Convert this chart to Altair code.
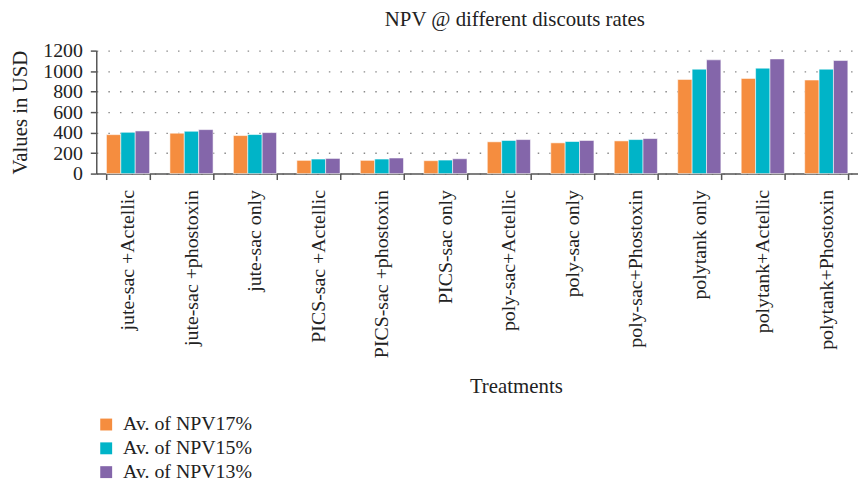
import altair as alt
import pandas as pd

treatments = ["jute-sac +Actellic", "jute-sac +phostoxin", "jute-sac only",
              "PICS-sac +Actellic", "PICS-sac +phostoxin", "PICS-sac only",
              "poly-sac+Actellic", "poly-sac only", "poly-sac+Phostoxin",
              "polytank only", "polytank+Actellic", "polytank+Phostoxin"]
series = ["Av. of NPV17%", "Av. of NPV15%", "Av. of NPV13%"]
npv17 = [380, 394, 371, 129, 129, 126, 310, 300, 319, 919, 929, 913]
npv15 = [403, 413, 381, 142, 142, 132, 323, 313, 332, 1019, 1029, 1019]
npv13 = [416, 429, 400, 148, 152, 145, 332, 323, 342, 1110, 1119, 1103]
colors = ["#F58D3F", "#00B4C8", "#8466AA"]
y_ticks = [0, 200, 400, 600, 800, 1000, 1200]

rows = []
for s, vals in zip(series, [npv17, npv15, npv13]):
    for t, v in zip(treatments, vals):
        rows.append({"Treatment": t, "Series": s, "Value": v})
df = pd.DataFrame(rows)

FONT = "Liberation Serif"
TXT = "#222222"
AX = "#555555"

chart = alt.Chart(df).mark_bar(stroke="white", strokeOpacity=0.55, strokeWidth=1).encode(
    x=alt.X("Treatment:N", sort=treatments,
            scale=alt.Scale(paddingInner=0.32, paddingOuter=0.16),
            axis=alt.Axis(title="Treatments", labelAngle=-90, labelFontSize=20,
                          titleFontSize=21, titleFontWeight="normal",
                          labelColor=TXT, titleColor=TXT,
                          domainColor=AX, domainWidth=1.5, tickColor=AX, tickWidth=1.5,
                          tickSize=6, tickBand="extent",
                          labelPadding=10, labelBaseline="middle", labelAlign="right",
                          titleX=423, titleY=221, titleAlign="center",
                          titleBaseline="alphabetic", grid=False)),
    xOffset=alt.XOffset("Series:N", sort=series),
    y=alt.Y("Value:Q", scale=alt.Scale(domain=[0, 1200]),
            axis=alt.Axis(title="Values in USD", values=y_ticks, format="d",
                          labelFontSize=20, titleFontSize=21, titleFontWeight="normal",
                          labelColor=TXT, titleColor=TXT,
                          domainColor=AX, domainWidth=1.5, tickColor=AX, tickWidth=1.5,
                          tickSize=6, labelPadding=8,
                          titleX=-70, titleY=62, titleAngle=-90, titleAlign="center",
                          titleBaseline="alphabetic",
                          grid=True, gridColor="#8a8a8a", gridDash=[1.5, 10.2],
                          gridWidth=1.4)),
    color=alt.Color("Series:N", sort=series,
                    scale=alt.Scale(domain=series, range=colors),
                    legend=alt.Legend(title=None, orient="none", legendX=0, legendY=367,
                                      symbolType="square", symbolSize=144,
                                      labelFontSize=20, labelColor=TXT, labelOffset=7,
                                      rowPadding=4, symbolStrokeWidth=0)),
).properties(
    width=768, height=124,
    autosize=alt.AutoSizeParams(type="none"),
    padding={"left": 89, "top": 41, "right": 0, "bottom": 310},
    title=alt.TitleParams("NPV @ different discouts rates", fontSize=21,
                          fontWeight="normal", color=TXT, anchor="middle",
                          offset=11, dx=38),
).configure(font=FONT).configure_view(stroke=None)

chart.save("out.html", embed_options={"renderer": "svg", "actions": False})
